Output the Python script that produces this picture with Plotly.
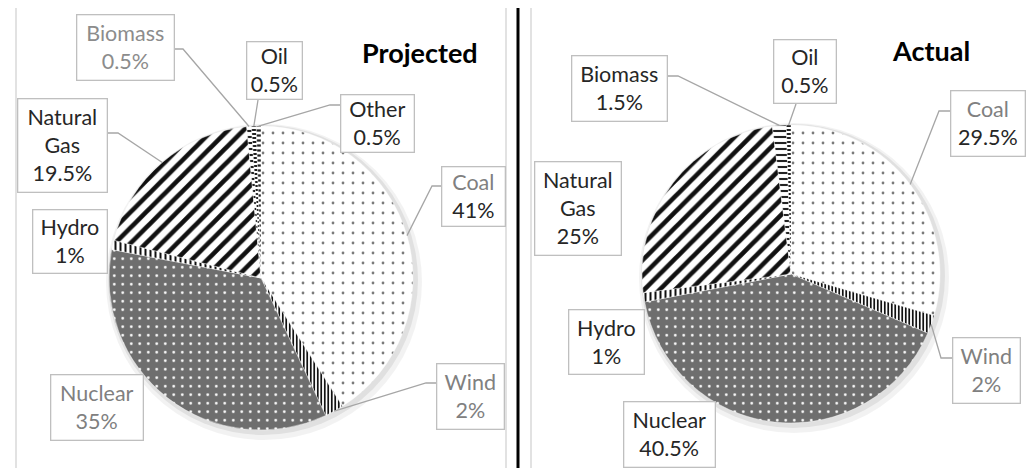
import math
import plotly.graph_objects as go

# ---------------- data ----------------
proj_labels = ["Coal", "Wind", "Nuclear", "Hydro", "Natural Gas", "Biomass", "Oil", "Other"]
proj_values = [41, 2, 35, 1, 19.5, 0.5, 0.5, 0.5]
act_labels = ["Coal", "Wind", "Nuclear", "Hydro", "Natural Gas", "Biomass", "Oil"]
act_values = [29.5, 2, 40.5, 1, 25, 1.5, 0.5]
titles = ["Projected", "Actual"]

W, H = 1034, 468

# ---------------- styles ----------------
PAT = {
    "Coal":        dict(shape=".", fg="#7a7a7a", bg="#ffffff", size=10, sol=0.06),
    "Wind":        dict(shape="|", fg="#111111", bg="#ffffff", size=3.5, sol=0.5),
    "Nuclear":     dict(shape=".", fg="#ffffff", bg="#6e6e6e", size=8.5, sol=0.08),
    "Hydro":       dict(shape="|", fg="#111111", bg="#ffffff", size=5, sol=0.4),
    "Natural Gas": dict(shape="/", fg="#111111", bg="#ffffff", size=11, sol=0.42),
    "Biomass":     dict(shape="-", fg="#222222", bg="#ffffff", size=6, sol=0.35),
    "Oil":         dict(shape="-", fg="#222222", bg="#ffffff", size=4, sol=0.5),
    "Other":       dict(shape="-", fg="#222222", bg="#ffffff", size=5, sol=0.45),
}

# pie geometry (pixels): center x, center y, radius
GEOM = [(253, 270, 152), (783, 266, 149)]

# label boxes (pixel center, width, height, name color, value color, leader)
BOX_P = {
    "Biomass":     (117, 39, 98, 66, "#8c8c8c", "#8c8c8c", ("right", 41, 175)),
    "Oil":         (266, 63, 56, 58, "#262626", "#262626", ("bottom", 250, None)),
    "Other":       (369, 115, 74, 58, "#262626", "#262626", ("left", 97, 322)),
    "Natural Gas": (54, 137, 90, 94, "#262626", "#262626", ("right", 125, 110)),
    "Hydro":       (62, 233, 75, 64, "#262626", "#262626", None),
    "Coal":        (465, 188, 64, 60, "#808080", "#262626", ("left", 178, 424)),
    "Wind":        (462, 388, 68, 66, "#808080", "#808080", ("left", 375, 418)),
    "Nuclear":     (89, 399, 93, 66, "#808080", "#808080", None),
}
BOX_A = {
    "Biomass":     (611, 80, 96, 66, "#262626", "#262626", ("right", 68, 670)),
    "Oil":         (797, 64, 63, 64, "#262626", "#262626", ("bottom", 788, None)),
    "Coal":        (980, 115, 75, 66, "#808080", "#262626", ("left", 103, 931)),
    "Natural Gas": (570, 200, 87, 94, "#262626", "#262626", None),
    "Hydro":       (598, 334, 76, 65, "#262626", "#262626", None),
    "Wind":        (978, 362, 68, 66, "#808080", "#808080", ("left", 350, 933)),
    "Nuclear":     (661, 426, 92, 66, "#262626", "#262626", None),
}
TITLE_POS = [(412, 45), (923, 42)]

FONT = "Lato, 'Open Sans', sans-serif"
LINE_C = "#a6a6a6"


def px(x):
    return x / W


def py(y):
    return 1 - y / H


fig = go.Figure()
shapes = []
annotations = []

for k, (labels, values, boxes) in enumerate(
        [(proj_labels, proj_values, BOX_P), (act_labels, act_values, BOX_A)]):
    cx, cy, r = GEOM[k]
    # soft shadow
    for dr, dx, dy, a in [(6, 3, 4, 0.05), (3, 2, 2, 0.07)]:
        shapes.append(dict(type="circle", xref="paper", yref="paper", layer="below",
                           x0=px(cx - r - dr + dx), x1=px(cx + r + dr + dx),
                           y0=py(cy + r + dr + dy), y1=py(cy - r - dr + dy),
                           fillcolor=f"rgba(0,0,0,{a})", line=dict(width=0)))
    fig.add_trace(go.Pie(
        labels=labels, values=values, sort=False, direction="clockwise", rotation=0,
        domain=dict(x=[px(cx - r), px(cx + r)], y=[py(cy + r), py(cy - r)]),
        textinfo="none", hoverinfo="label+percent", showlegend=False,
        marker=dict(
            colors=[PAT[l]["bg"] for l in labels],
            line=dict(color="#ffffff", width=0.4),
            pattern=dict(
                shape=[PAT[l]["shape"] for l in labels],
                fgcolor=[PAT[l]["fg"] for l in labels],
                bgcolor=[PAT[l]["bg"] for l in labels],
                size=[PAT[l]["size"] for l in labels],
                solidity=[PAT[l]["sol"] for l in labels],
                fillmode="replace",
            ),
        ),
    ))

    total = sum(values)
    cum = 0.0
    for lab, v in zip(labels, values):
        mid = (cum + v / 2) / total * 2 * math.pi
        cum += v
        ex = cx + r * math.sin(mid)
        ey = cy - r * math.cos(mid)
        bx, by, bw, bh, c1, c2, leader = boxes[lab]
        name = lab.replace(" ", "<br>")
        txt = (f"<span style='color:{c1}'>{name}</span><br>"
               f"<span style='color:{c2}'>{v:g}%</span>")
        annotations.append(dict(
            xref="paper", yref="paper", x=px(bx), y=py(by),
            xanchor="center", yanchor="middle", showarrow=False,
            text=txt, align="center", width=bw - 4, height=bh - 4,
            bordercolor="#bfbfbf", borderwidth=1.3, borderpad=1, bgcolor="#ffffff",
            font=dict(family=FONT, size=21.5, color="#262626"),
        ))
        if leader is not None:
            side, a, elbow = leader
            if side == "right":
                pts = [(bx + bw / 2, a), (elbow, a), (ex, ey)]
            elif side == "left":
                pts = [(bx - bw / 2, a), (elbow, a), (ex, ey)]
            else:
                pts = [(a, by + bh / 2), (ex, ey)]
            path = "M " + " L ".join(f"{px(x):.5f},{py(y):.5f}" for x, y in pts)
            shapes.append(dict(type="path", xref="paper", yref="paper", path=path,
                               line=dict(color=LINE_C, width=1.3)))

    tx, ty = TITLE_POS[k]
    annotations.append(dict(
        xref="paper", yref="paper", x=px(tx), y=py(ty), xanchor="center", yanchor="middle",
        showarrow=False, text=f"<b>{titles[k]}</b>",
        font=dict(family=FONT, size=27, color="#000000"),
    ))

# panel borders and divider
shapes.append(dict(type="rect", xref="paper", yref="paper", layer="below",
                   x0=px(8), x1=px(498), y0=py(466), y1=py(-5),
                   line=dict(color="#d9d9d9", width=1.5), fillcolor="rgba(0,0,0,0)"))
shapes.append(dict(type="rect", xref="paper", yref="paper", layer="below",
                   x0=px(523), x1=px(1045), y0=py(466), y1=py(-5),
                   line=dict(color="#d9d9d9", width=1.5), fillcolor="rgba(0,0,0,0)"))
shapes.append(dict(type="line", xref="paper", yref="paper",
                   x0=px(510), x1=px(510), y0=0, y1=1,
                   line=dict(color="#000000", width=3)))

fig.update_layout(
    width=W, height=H, margin=dict(l=0, r=0, t=0, b=0),
    paper_bgcolor="#ffffff", plot_bgcolor="#ffffff",
    shapes=shapes, annotations=annotations,
    font=dict(family=FONT),
)

fig.write_html("out.html")
